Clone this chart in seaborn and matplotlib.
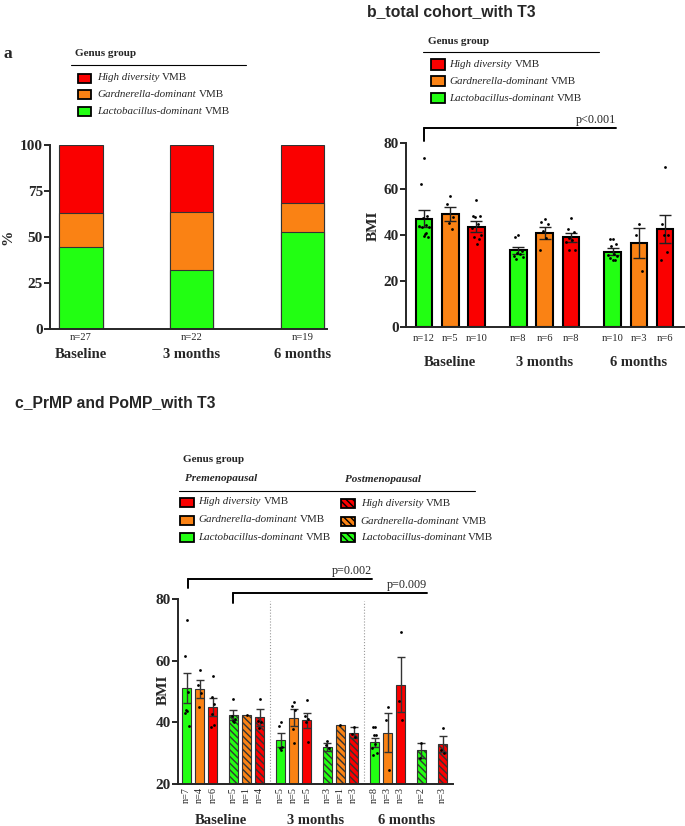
import numpy as np
import pandas as pd
import matplotlib
matplotlib.use("Agg")
import matplotlib.pyplot as plt
import matplotlib.transforms as mtransforms
from matplotlib.patches import Rectangle
from matplotlib.lines import Line2D
import seaborn as sns

# ------------------------------------------------------------------ data
TIMES = ["Baseline", "3 months", "6 months"]
GROUPS = ["Lactobacillus-dominant", "Gardnerella-dominant", "High diversity"]

# panel a : percentage of each genus group per time point
A_N = ["n=27", "n=22", "n=19"]
A_LACTO = [44.4, 31.8, 52.6]
A_GARD = [18.5, 31.8, 15.8]
A_HIGH = [37.1, 36.4, 31.6]

# panel b : BMI, total cohort
B_TIME = [0, 0, 0, 1, 1, 1, 2, 2, 2]
B_GROUP = ["Lactobacillus-dominant", "Gardnerella-dominant", "High diversity"] * 3
B_N = ["n=12", "n=5", "n=10", "n=8", "n=6", "n=8", "n=10", "n=3", "n=6"]
B_MEAN = [47.3, 49.1, 43.7, 33.4, 41.0, 39.1, 32.9, 36.6, 42.7]
B_SEM = [3.5, 3.0, 2.4, 1.7, 2.5, 2.0, 1.4, 6.5, 6.1]
B_POINTS = [
    [73.5, 62.2, 48.5, 47.5, 44.5, 44.0, 43.8, 43.5, 41.0, 40.5, 39.7, 39.2],
    [57.1, 53.6, 47.8, 45.2, 42.9],
    [55.4, 48.4, 48.4, 48.0, 45.0, 43.0, 40.0, 39.1, 38.6, 36.1],
    [40.0, 39.1, 33.0, 32.5, 32.0, 31.0, 30.5, 29.9],
    [47.1, 45.9, 44.8, 42.0, 39.0, 33.5],
    [47.4, 42.6, 41.4, 39.0, 38.0, 37.0, 33.6, 33.6],
    [38.6, 38.6, 36.1, 35.5, 32.0, 31.4, 31.0, 30.0, 29.3, 29.3],
    [45.1, 40.0, 24.5],
    [69.6, 45.0, 40.0, 40.0, 32.6, 29.3],
]

# panel c : BMI, pre- and postmenopausal
C_TIME = [0] * 6 + [1] * 6 + [2] * 5
C_MENO = ["Pre", "Pre", "Pre", "Post", "Post", "Post",
          "Pre", "Pre", "Pre", "Post", "Post", "Post",
          "Pre", "Pre", "Pre", "Post", "Post"]
C_GROUP = ["Lactobacillus-dominant", "Gardnerella-dominant", "High diversity"] * 4 + \
          ["Lactobacillus-dominant", "Gardnerella-dominant", "High diversity",
           "Lactobacillus-dominant", "High diversity"]
C_N = ["n=7", "n=4", "n=6", "n=5", "n=1", "n=4",
       "n=5", "n=5", "n=5", "n=3", "n=1", "n=3",
       "n=8", "n=3", "n=3", "n=2", "n=3"]
C_MEAN = [51.1, 50.8, 45.0, 42.3, 42.5, 41.7,
          34.3, 41.5, 40.7, 32.0, 39.2, 36.7,
          33.5, 36.7, 52.2, 30.9, 33.0]
C_SEM = [4.8, 2.9, 2.8, 1.6, 0.0, 2.7,
         2.2, 2.8, 2.5, 1.2, 0.0, 1.9,
         1.5, 6.4, 8.9, 2.3, 2.7]
C_POINTS = [
    [73.3, 61.7, 50.0, 44.0, 43.8, 43.2, 38.9],
    [56.9, 52.0, 49.5, 45.0],
    [55.1, 48.2, 46.0, 42.7, 39.2, 38.4],
    [47.7, 42.0, 41.0, 40.5, 40.0],
    [42.5],
    [47.7, 40.5, 40.3, 38.3],
    [40.0, 38.9, 32.0, 31.6, 31.1],
    [46.8, 45.4, 44.0, 38.0, 33.2],
    [47.3, 42.0, 41.0, 40.0, 33.5],
    [34.0, 32.7, 31.8],
    [39.2],
    [38.4, 36.3, 35.4],
    [38.4, 38.4, 35.9, 35.9, 33.0, 31.6, 30.0, 29.4],
    [44.9, 40.7, 24.5],
    [69.3, 47.0, 40.8],
    [33.2, 28.6],
    [38.1, 31.0, 30.0],
]

# ------------------------------------------------------------------ style / layout
RED = "#FA0000"
ORANGE = "#FA8214"
GREEN = "#22FF12"
PALETTE = {"Lactobacillus-dominant": GREEN, "Gardnerella-dominant": ORANGE,
           "High diversity": RED}

W, H = 685, 826
sns.set_style("ticks")
plt.rcParams["font.family"] = ["Liberation Serif", "DejaVu Serif"]
plt.rcParams["axes.linewidth"] = 1.4

fig = plt.figure(figsize=(W / 100, H / 100), dpi=100)


def fx(px):
    return px / W


def fy(py):
    return 1 - py / H


def jitter(n, spread):
    pattern = [0.0, -0.55, 0.55, -0.25, 0.25, -0.8, 0.8, -0.4, 0.4, 0.1, -0.1, 0.65]
    return [pattern[i % len(pattern)] * spread for i in range(n)]


def style_axis(ax):
    sns.despine(ax=ax)
    ax.tick_params(axis="y", direction="out", length=4, width=1.4, labelsize=11, pad=1)
    ax.tick_params(axis="x", length=0)
    for lab in ax.get_yticklabels():
        lab.set_fontweight("bold")


def legend_row(xbox, yc, color, italic, xtext, hatch=None, bw=14, bh=9, fs=7.9):
    rect = Rectangle((fx(xbox), fy(yc + bh / 2)), bw / W, bh / H,
                     transform=fig.transFigure, facecolor=color,
                     edgecolor="black", lw=1.3, hatch=hatch)
    fig.add_artist(rect)
    t = fig.text(fx(xtext), fy(yc), italic, style="italic", fontsize=fs,
                 va="center", ha="left")
    bb = t.get_window_extent(fig.canvas.get_renderer())
    fig.text((bb.x1 + 2.8) / W, fy(yc), "VMB", fontsize=fs, va="center", ha="left")


# ================================================================== panel a
axa = fig.add_axes([fx(50), fy(329), 276.7 / W, 184 / H])
cum_high = [l + g + h for l, g, h in zip(A_LACTO, A_GARD, A_HIGH)]
cum_gard = [l + g for l, g in zip(A_LACTO, A_GARD)]
for vals, col in [(cum_high, RED), (cum_gard, ORANGE), (A_LACTO, GREEN)]:
    sns.barplot(x=TIMES, y=vals, color=col, saturation=1, width=0.39,
                edgecolor="#333333", linewidth=0.8, ax=axa)
axa.set_xlim(-0.28, 2.22)
axa.set_ylim(0, 100)
axa.set_yticks([0, 25, 50, 75, 100])
axa.set_xticks(range(3))
axa.set_xticklabels(A_N, fontsize=7.6)
axa.set_ylabel("")
style_axis(axa)
axa.tick_params(axis="x", pad=3)
tra = mtransforms.blended_transform_factory(axa.transData, axa.transAxes)
for i, t in enumerate(TIMES):
    axa.text(i, (329 - 354.5) / 184, t, transform=tra, ha="center", va="center",
             fontsize=10.5, fontweight="bold")
fig.text(fx(8), fy(237), "%", rotation=90, fontsize=11, fontweight="bold",
         ha="center", va="center")
fig.text(fx(4), fy(54), "a", fontsize=12.5, fontweight="bold", ha="left", va="center")

# legend a
fig.text(fx(75), fy(54), "Genus group", fontsize=8, fontweight="bold", va="center")
fig.add_artist(Line2D([fx(71), fx(246)], [fy(65), fy(65)], color="black", lw=0.8,
                      transform=fig.transFigure))
for yc, col, g in [(78, RED, "High diversity"), (94.5, ORANGE, "Gardnerella-dominant"),
                   (111, GREEN, "Lactobacillus-dominant")]:
    legend_row(78, yc, col, g, 97, bw=13, bh=9)

# ================================================================== panel b
axb = fig.add_axes([fx(406), fy(327.3), 278 / W, 184 / H])
pos_b = [t * 3.6 + (i % 3) for i, t in enumerate(B_TIME)]
df_b = pd.DataFrame({"pos": pos_b, "mean": B_MEAN, "group": B_GROUP})
sns.barplot(data=df_b, x="pos", y="mean", hue="group", palette=PALETTE,
            native_scale=True, dodge=False, width=0.63, saturation=1,
            edgecolor="black", linewidth=1.5, legend=False, ax=axb, zorder=2)
axb.errorbar(pos_b, B_MEAN, yerr=B_SEM, fmt="none", ecolor="#222222",
             elinewidth=1.0, capsize=4, capthick=1.0, zorder=3)
px, py = [], []
for p, pts in zip(pos_b, B_POINTS):
    px += [p + o for o in jitter(len(pts), 0.22)]
    py += pts
sns.scatterplot(x=px, y=py, color="black", s=4, linewidth=0, ax=axb, zorder=4,
                legend=False)
axb.set_xlim(-0.69, 9.92)
axb.set_ylim(0, 80)
axb.set_yticks([0, 20, 40, 60, 80])
axb.set_xticks(pos_b)
axb.set_xticklabels(B_N, fontsize=7.6)
axb.set_xlabel("")
axb.set_ylabel("")
style_axis(axb)
axb.tick_params(axis="x", pad=5)
trb = mtransforms.blended_transform_factory(axb.transData, axb.transAxes)
for g, t in enumerate(TIMES):
    axb.text(g * 3.6 + 1, (327.3 - 362.5) / 184, t, transform=trb, ha="center",
             va="center", fontsize=10.5, fontweight="bold")
# significance bracket
axb.plot([0, 7.32], [86.6, 86.6], color="black", lw=1.4, clip_on=False)
axb.plot([0, 0], [86.6, 81.0], color="black", lw=1.4, clip_on=False)
axb.text(7.32, 87.6, "p<0.001", ha="right", va="bottom", fontsize=8.7)
fig.text(fx(373), fy(226), "BMI", rotation=90, fontsize=11, fontweight="bold",
         ha="center", va="center")
fig.text(fx(367), fy(12), "b_total cohort_with T3", family=["Liberation Sans"],
         fontsize=11.3, fontweight="bold", ha="left", va="center")

# legend b
fig.text(fx(428), fy(41), "Genus group", fontsize=8, fontweight="bold", va="center")
fig.add_artist(Line2D([fx(423), fx(599)], [fy(52), fy(52)], color="black", lw=0.8,
                      transform=fig.transFigure))
for yc, col, g in [(64.5, RED, "High diversity"), (81, ORANGE, "Gardnerella-dominant"),
                   (98.3, GREEN, "Lactobacillus-dominant")]:
    legend_row(431, yc, col, g, 449.3, bw=14, bh=10)

# ================================================================== panel c
axc = fig.add_axes([fx(177.7), fy(784), 275.6 / W, 184.7 / H])
SLOT = {("Pre", GROUPS[0]): 0, ("Pre", GROUPS[1]): 1, ("Pre", GROUPS[2]): 2,
        ("Post", GROUPS[0]): 3.55, ("Post", GROUPS[1]): 4.55, ("Post", GROUPS[2]): 5.55}
SHIFT = [0] * 16 + [-0.38]
pos_c = [t * 7.14 + SLOT[(m, g)] + s for t, m, g, s in zip(C_TIME, C_MENO, C_GROUP, SHIFT)]
df_c = pd.DataFrame({"pos": pos_c, "mean": C_MEAN, "group": C_GROUP, "meno": C_MENO})
HATCH = "\\" * 5
for meno in ["Pre", "Post"]:
    n0 = len(axc.patches)
    sns.barplot(data=df_c[df_c.meno == meno], x="pos", y="mean", hue="group",
                palette=PALETTE, native_scale=True, dodge=False, width=0.68,
                saturation=1, edgecolor="#333333", linewidth=0.8, legend=False,
                ax=axc, zorder=2)
    if meno == "Post":
        for p in axc.patches[n0:]:
            p.set_hatch(HATCH)
for p, m, s in zip(pos_c, C_MEAN, C_SEM):
    if s > 0:
        axc.errorbar([p], [m], yerr=[s], fmt="none", ecolor="#333333",
                     elinewidth=1.0, capsize=3, capthick=1.0, zorder=3)
px, py = [], []
for p, pts in zip(pos_c, C_POINTS):
    px += [p + o for o in jitter(len(pts), 0.2)]
    py += pts
sns.scatterplot(x=px, y=py, color="black", s=4, linewidth=0, ax=axc, zorder=4,
                legend=False)
# dotted separators between time points
for t in range(2):
    last = max(p for p, tt in zip(pos_c, C_TIME) if tt == t)
    first = min(p for p, tt in zip(pos_c, C_TIME) if tt == t + 1)
    axc.axvline((last + first) / 2, ymax=0.99, color="#999999", ls=":", lw=0.8, zorder=1)
axc.set_xlim(-0.68, 20.27)
axc.set_ylim(20, 80)
axc.set_yticks([20, 40, 60, 80])
axc.set_xticks(pos_c)
axc.set_xticklabels(C_N, fontsize=7.4, rotation=90)
axc.set_xlabel("")
axc.set_ylabel("")
style_axis(axc)
axc.tick_params(axis="x", pad=2)
trc = mtransforms.blended_transform_factory(axc.transData, axc.transAxes)
for t, name in enumerate(TIMES):
    ps = [p for p, tt in zip(pos_c, C_TIME) if tt == t]
    axc.text((min(ps) + max(ps)) / 2 - 0.15, (784 - 820) / 184.7, name, transform=trc,
             ha="center", va="center", fontsize=10.5, fontweight="bold")
# significance brackets
axc.plot([0.12, 14.07], [86.5, 86.5], color="black", lw=1.4, clip_on=False)
axc.plot([0.12, 0.12], [86.5, 83.7], color="black", lw=1.4, clip_on=False)
axc.text(14.07, 87.3, "p=0.002", ha="right", va="bottom", fontsize=8.7)
axc.plot([3.5, 18.3], [81.95, 81.95], color="black", lw=1.4, clip_on=False)
axc.plot([3.5, 3.5], [81.95, 78.9], color="black", lw=1.4, clip_on=False)
axc.text(18.3, 82.8, "p=0.009", ha="right", va="bottom", fontsize=8.7)
fig.text(fx(163), fy(690), "BMI", rotation=90, fontsize=11, fontweight="bold",
         ha="center", va="center")
fig.text(fx(15), fy(403), "c_PrMP and PoMP_with T3", family=["Liberation Sans"],
         fontsize=11.3, fontweight="bold", ha="left", va="center")

# legend c
fig.text(fx(183), fy(459), "Genus group", fontsize=8, fontweight="bold", va="center")
fig.text(fx(185), fy(479), "Premenopausal", fontsize=8, fontweight="bold",
         style="italic", va="center")
fig.text(fx(345), fy(480), "Postmenopausal", fontsize=8, fontweight="bold",
         style="italic", va="center")
fig.add_artist(Line2D([fx(179), fx(475)], [fy(491), fy(491)], color="black", lw=0.8,
                      transform=fig.transFigure))
for yc, col, g in [(502, RED, "High diversity"), (520, ORANGE, "Gardnerella-dominant"),
                   (537, GREEN, "Lactobacillus-dominant")]:
    legend_row(179.5, yc, col, g, 198.3, bw=14, bh=9)
for yc, col, g in [(503, RED, "High diversity"), (521, ORANGE, "Gardnerella-dominant"),
                   (537.5, GREEN, "Lactobacillus-dominant")]:
    legend_row(341, yc, col, g, 360.7, hatch=HATCH, bw=14, bh=9)

fig.savefig("out.png", dpi=100)
